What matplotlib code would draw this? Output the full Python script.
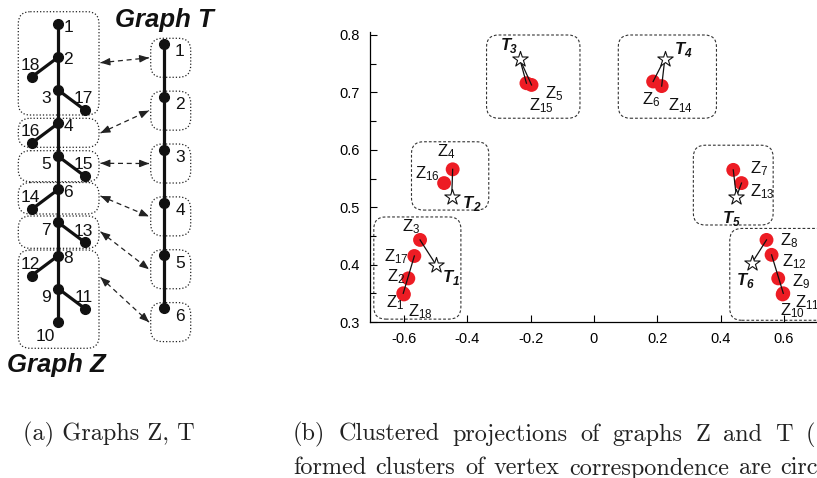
import matplotlib
matplotlib.use("Agg")
import matplotlib.pyplot as plt
from matplotlib.patches import FancyBboxPatch
import numpy as np

plt.rcParams['font.family'] = ['Liberation Sans', 'DejaVu Sans']
plt.rcParams['mathtext.fontset'] = 'custom'
plt.rcParams['mathtext.rm'] = 'Liberation Sans'
plt.rcParams['mathtext.it'] = 'Liberation Sans:italic'
plt.rcParams['mathtext.bf'] = 'Liberation Sans:bold'
plt.rcParams['axes.unicode_minus'] = False

# ---------------- data ----------------
# Graph Z : a spine 1..10 with one leaf hanging from nodes 2..9
z_spine = [1, 2, 3, 4, 5, 6, 7, 8, 9, 10]
z_leaves = [18, 17, 16, 15, 14, 13, 12, 11]
z_leaf_parent = [2, 3, 4, 5, 6, 7, 8, 9]
z_leaf_side = [-1, 1, -1, 1, -1, 1, -1, 1]
# Graph T : a chain 1..6
t_chain = [1, 2, 3, 4, 5, 6]
# vertex correspondence clusters (Z groups <-> T vertex)
z_groups = [[1, 2, 3, 17, 18], [4, 16], [5, 15], [6, 14], [7, 13], [8, 9, 10, 11, 12]]

# projected coordinates
z_ids = list(range(1, 19))
z_x = [-0.602, -0.586, -0.549, -0.446, -0.197, 0.187, 0.440, 0.545, 0.582,
       0.598, 0.596, 0.561, 0.466, 0.214, -0.213, -0.473, -0.567, -0.600]
z_y = [0.350, 0.376, 0.443, 0.566, 0.713, 0.719, 0.565, 0.443, 0.376,
       0.350, 0.348, 0.417, 0.542, 0.711, 0.716, 0.542, 0.415, 0.348]
t_ids = [1, 2, 3, 4, 5, 6]
t_x = [-0.499, -0.449, -0.234, 0.224, 0.450, 0.498]
t_y = [0.400, 0.518, 0.758, 0.759, 0.518, 0.402]
links = [("Z1", "Z17"), ("Z3", "T1"), ("Z4", "T2"), ("Z15", "T3"), ("Z5", "T3"),
         ("Z6", "T4"), ("Z14", "T4"), ("Z7", "T5"), ("Z13", "T5"),
         ("Z10", "Z12"), ("Z8", "T6")]

x_ticks = [-0.6, -0.4, -0.2, 0.0, 0.2, 0.4, 0.6]
x_ticklabels = ["-0.6", "-0.4", "-0.2", "0", "0.2", "0.4", "0.6"]
y_ticks = [0.3, 0.4, 0.5, 0.6, 0.7, 0.8]
y_ticklabels = ["0.3", "0.4", "0.5", "0.6", "0.7", "0.8"]

caption_a = "(a) Graphs Z, T"
caption_b1 = "(b) Clustered projections of graphs Z and T ("
caption_b2 = "formed clusters of vertex correspondence are circ"

# ---------------- figure ----------------
W, H, DPI = 817, 478, 100
fig = plt.figure(figsize=(W / DPI, H / DPI), dpi=DPI)
ax0 = fig.add_axes([0, 0, 1, 1])
ax0.set_xlim(0, W)
ax0.set_ylim(H, 0)
ax0.axis('off')

DOT = (0, (1, 1.6))

def rbox(axis, x0, y0, x1, y1, r=12, ls=DOT, lw=0.9, **kw):
    p = FancyBboxPatch((x0, y0), x1 - x0, y1 - y0,
                       boxstyle=f"round,pad=0,rounding_size={r}",
                       fill=False, ec='#222222', lw=lw, ls=ls, **kw)
    axis.add_patch(p)

# ---- left panel layout (pixel space) ----
sx, sy0, sstep = 58.3, 24.0, 33.08
leaf_dx, leaf_dy = 26.7, 20.0
zpos = {}
for i, n in enumerate(z_spine):
    zpos[n] = (sx, sy0 + sstep * i)
for n, p, s in zip(z_leaves, z_leaf_parent, z_leaf_side):
    px, py = zpos[p]
    zpos[n] = (px + s * leaf_dx, py + leaf_dy)

tx, ty0, tstep = 163.7, 44.0, 52.86
tpos = {n: (tx, ty0 + tstep * i) for i, n in enumerate(t_chain)}

LW = 2.3
for a, b in zip(z_spine[:-1], z_spine[1:]):
    ax0.plot([zpos[a][0], zpos[b][0]], [zpos[a][1], zpos[b][1]], color='#111111', lw=LW, solid_capstyle='round', zorder=2)
for n, p in zip(z_leaves, z_leaf_parent):
    ax0.plot([zpos[p][0], zpos[n][0]], [zpos[p][1], zpos[n][1]], color='#111111', lw=LW, solid_capstyle='round', zorder=2)
ax0.plot([tpos[t_chain[0]][0], tpos[t_chain[-1]][0]], [tpos[t_chain[0]][1], tpos[t_chain[-1]][1]],
         color='#111111', lw=LW, zorder=2)
zall = z_spine + z_leaves
ax0.plot([zpos[n][0] for n in zall], [zpos[n][1] for n in zall], 'o', color='#111111', ms=7.0, zorder=3)
ax0.plot([tpos[n][0] for n in t_chain], [tpos[n][1] for n in t_chain], 'o', color='#111111', ms=7.0, zorder=3)

NFS = 12.5
CAPH = 6.3
left_parents = [p for p, s in zip(z_leaf_parent, z_leaf_side) if s < 0]
right_parents = [p for p, s in zip(z_leaf_parent, z_leaf_side) if s > 0]
for n in zall:
    x, y = zpos[n]
    if n == z_spine[0]:
        dx, dy = 10, 1.8
    elif n == z_spine[-1]:
        dx, dy = -13.3, 13.0
    elif n in left_parents:
        dx, dy = 10, 1.0
    elif n in right_parents:
        dx, dy = -12.3, 6.7
    else:
        dx, dy = -1.6, -13.2
    ax0.text(x + dx, y + dy + CAPH, str(n), fontsize=NFS, ha='center', va='baseline', color='#111111')
for n in t_chain:
    x, y = tpos[n]
    ax0.text(x + 16.3, y + 6 + CAPH, str(n), fontsize=NFS, ha='center', va='baseline', color='#111111')

# group boxes
zbox_x = (18.3, 99.0)
zbox_y = [(11.7, 115.0), (118.3, 147.3), (150.7, 181.7), (182.5, 214.0), (216.0, 248.3), (250.0, 348.3)]
for (y0, y1) in zbox_y:
    rbox(ax0, zbox_x[0], y0, zbox_x[1], y1)
tbox_dx = (-13.0, 27.0)
tbox_dy = (-5.7, 33.3)
for n in t_chain:
    x, y = tpos[n]
    rbox(ax0, x + tbox_dx[0], y + tbox_dy[0], x + tbox_dx[1], y + tbox_dy[1])

# correspondence arrows
arrow_zy = [62.7, 133.0, 163.3, 196.0, 231.7, 277.3]
ax_z, ax_t = 100.5, 149.0
for gi, n in enumerate(t_chain):
    y1 = arrow_zy[gi]
    y2 = tpos[n][1] + (tbox_dy[0] + tbox_dy[1]) / 2
    p1 = np.array([ax_z, y1]); p2 = np.array([ax_t, y2])
    ax0.plot([p1[0], p2[0]], [p1[1], p2[1]], color='#222222', lw=0.9, ls=(0, (4, 3)))
    u = (p2 - p1) / np.linalg.norm(p2 - p1)
    for tip, d in ((p2, u), (p1, -u)):
        ax0.annotate('', xy=tip, xytext=tip - 7 * d,
                     arrowprops=dict(arrowstyle='-|>,head_length=0.55,head_width=0.22',
                                     color='#222222', lw=0.9, shrinkA=0, shrinkB=0, mutation_scale=10))

ax0.text(115, 26.5, "Graph T", fontsize=18.5, fontweight='bold', fontstyle='italic', ha='left', va='baseline', color='#111111')
ax0.text(6.7, 372.0, "Graph Z", fontsize=18.5, fontweight='bold', fontstyle='italic', ha='left', va='baseline', color='#111111')

# ---- scatter panel ----
XL = (-0.707, 0.75)
YL = (0.3, 0.805)
pxx, pxy = 316.7, 574.0
left_px, bottom_px = 370.0, 322.0
ax = fig.add_axes([left_px / W, (H - bottom_px) / H,
                   (XL[1] - XL[0]) * pxx / W, (YL[1] - YL[0]) * pxy / H])
ax.patch.set_alpha(0)
ax.set_xlim(*XL)
ax.set_ylim(*YL)
for s in ('top', 'right'):
    ax.spines[s].set_visible(False)
for s in ('left', 'bottom'):
    ax.spines[s].set_linewidth(0.9)
ax.set_xticks(x_ticks)
ax.set_xticklabels(x_ticklabels)
ax.set_yticks(y_ticks)
ax.set_yticklabels(y_ticklabels)
ax.set_yticks(np.arange(0.35, 0.8, 0.1), minor=True)
ax.tick_params(axis='both', which='major', direction='in', length=5, width=0.8, labelsize=10.5)
ax.tick_params(axis='x', pad=7)
ax.tick_params(axis='y', pad=7.5)
ax.tick_params(axis='y', which='minor', direction='in', length=4, width=0.8)

# cluster boxes (data space)
cluster_boxes = [(-0.695, -0.420, 0.305, 0.483), (-0.576, -0.332, 0.495, 0.614),
                 (-0.339, -0.044, 0.655, 0.800), (0.077, 0.387, 0.655, 0.800),
                 (0.314, 0.566, 0.469, 0.608), (0.429, 0.745, 0.303, 0.463)]
for (x0, x1, y0, y1) in cluster_boxes:
    p = FancyBboxPatch((x0, y0), x1 - x0, y1 - y0,
                       boxstyle=f"round,pad=0,rounding_size={12 / pxx:.4f}",
                       mutation_aspect=pxx / pxy, fill=False, ec='#333333',
                       lw=0.8, ls=(0, (2.5, 1.8)), clip_on=False)
    ax.add_patch(p)

coords = {f"Z{i}": (x, y) for i, x, y in zip(z_ids, z_x, z_y)}
coords.update({f"T{i}": (x, y) for i, x, y in zip(t_ids, t_x, t_y)})

ax.scatter(z_x, z_y, s=100, color='#ed1c24', edgecolors='none', zorder=3, clip_on=False)
for a, b in links:
    ax.plot([coords[a][0], coords[b][0]], [coords[a][1], coords[b][1]], color='#111111', lw=0.9, zorder=4)
ax.scatter(t_x, t_y, s=135, marker='*', facecolor='white', edgecolors='#111111', linewidths=0.8, zorder=5)

label_off = {
    "Z1": (-17.3, 14.4), "Z2": (-21, 3.4), "Z3": (-18.3, -8.3), "Z17": (-30.3, 5.7), "Z18": (4.3, 22),
    "Z4": (-16, -12.6), "Z16": (-29.3, -5), "Z5": (13.3, 13.3), "Z15": (2.6, 26.7),
    "Z6": (-11.6, 23.3), "Z14": (6.6, 24), "Z7": (16.7, 3.3), "Z13": (8.3, 13.4),
    "Z8": (13.3, 5), "Z12": (10, 11.7), "Z9": (13.4, 8.4), "Z11": (12, 12.7), "Z10": (-3.3, 21.7),
    "T1": (7.3, 17.4), "T2": (11.6, 11.6), "T3": (-19.3, -9.3), "T4": (10, -4.3),
    "T5": (-13.4, 26.6), "T6": (-15, 21.7),
}
for key, (dx, dy) in label_off.items():
    num = key[1:]
    if key[0] == 'Z':
        ax.annotate("Z$_{" + num + "}$", xy=coords[key], xytext=(dx, -dy), textcoords='offset pixels',
                    ha='left', va='baseline', fontsize=12, color='#111111', zorder=6,
                    annotation_clip=False)
    else:
        ax.annotate("T", xy=coords[key], xytext=(dx, -dy), textcoords='offset pixels',
                    ha='left', va='baseline', fontsize=12, fontweight='bold', fontstyle='italic',
                    color='#111111', zorder=6, annotation_clip=False)
        ax.annotate(num, xy=coords[key], xytext=(dx + 9.8, -dy - 3.0), textcoords='offset pixels',
                    ha='left', va='baseline', fontsize=8.5, fontweight='bold', fontstyle='italic',
                    color='#111111', zorder=6, annotation_clip=False)

# ---- captions ----
CFS = 17.5
ax0.text(23.3, 440.7, caption_a, family='cmr10', fontsize=CFS, ha='left', va='baseline', color='#222222')

renderer = fig.canvas.get_renderer()

def justify(line, x0, x1, yb):
    words = line.split(' ')
    texts = [ax0.text(0, yb, w, family='cmr10', fontsize=CFS, ha='left', va='baseline', color='#222222')
             for w in words]
    widths = [t.get_window_extent(renderer).width for t in texts]
    gap = (x1 - x0 - sum(widths)) / (len(words) - 1)
    x = x0
    for t, w in zip(texts, widths):
        t.set_x(x)
        x += w + gap

justify(caption_b1, 293.0, 815.0, 440.7)
justify(caption_b2, 293.0, 818.0, 474.5)

fig.savefig("out.png", dpi=DPI)
